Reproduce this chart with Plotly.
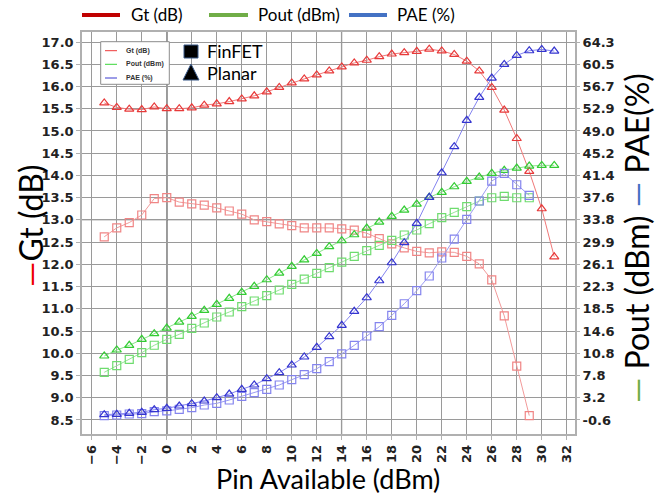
import plotly.graph_objects as go
import numpy as np

# ---- data -------------------------------------------------------------
pin_planar = list(range(-5, 32))   # Pin available (dBm), planar device
pin_finfet = list(range(-5, 30))   # Pin available (dBm), FinFET device

gt_planar = [15.63, 15.53, 15.49, 15.48, 15.54, 15.50, 15.50, 15.52, 15.58, 15.61,
             15.66, 15.72, 15.79, 15.88, 15.98, 16.08, 16.17, 16.26, 16.35, 16.44,
             16.53, 16.59, 16.67, 16.73, 16.76, 16.79, 16.84, 16.80, 16.72, 16.57,
             16.35, 15.98, 15.47, 14.83, 14.09, 13.25, 12.17]
gt_finfet = [12.62, 12.82, 12.94, 13.11, 13.48, 13.50, 13.40, 13.36, 13.33, 13.27,
             13.20, 13.13, 13.00, 12.96, 12.91, 12.87, 12.82, 12.82, 12.82, 12.80,
             12.77, 12.70, 12.58, 12.46, 12.37, 12.29, 12.26, 12.28, 12.27, 12.18,
             12.01, 11.65, 10.84, 9.71, 8.60]

pout_planar = [10.39, 11.42, 12.22, 13.25, 14.22, 15.19, 16.22, 17.20, 18.23, 19.26,
               20.29, 21.32, 22.35, 23.48, 24.63, 25.78, 26.90, 28.00, 29.15, 30.18,
               31.21, 32.36, 33.39, 34.37, 35.45, 36.48, 37.63, 38.49, 39.45, 40.38,
               41.11, 41.75, 42.27, 42.66, 43.00, 43.12, 43.12]
pout_finfet = [7.59, 8.72, 9.82, 10.96, 12.23, 13.25, 14.11, 15.14, 16.05, 17.08,
               17.94, 18.85, 19.83, 20.74, 21.72, 22.69, 23.60, 24.58, 25.55, 26.52,
               27.50, 28.47, 29.39, 30.25, 31.16, 32.02, 33.10, 34.13, 35.05, 36.02,
               37.00, 37.56, 37.80, 37.56, 37.56]

pae_planar = [0.31, 0.38, 0.55, 0.72, 1.17, 1.41, 1.80, 2.20, 2.66, 3.23,
              3.86, 4.67, 5.41, 6.49, 7.52, 8.84, 10.22, 11.88, 13.70, 15.66,
              18.06, 20.39, 23.31, 26.40, 29.84, 33.17, 37.63, 41.85, 46.32, 50.85,
              54.80, 58.11, 60.46, 62.00, 62.80, 63.03, 62.74]
pae_finfet = [0.14, 0.26, 0.43, 0.50, 0.83, 0.95, 1.24, 1.51, 1.97, 2.26,
              2.83, 3.47, 4.09, 4.67, 5.41, 6.32, 7.18, 8.21, 9.41, 10.75,
              12.22, 13.82, 15.42, 17.37, 19.36, 21.60, 24.12, 27.21, 30.47, 33.85,
              37.00, 40.43, 41.75, 39.79, 37.97]

x_ticks = list(range(-6, 33, 2))
gt_ticks = [8.5 + 0.5 * i for i in range(18)]
right_tick_text = ["-0.6", "3.2", "7.8", "10.8", "14.6", "18.5", "22.3", "26.1", "29.9",
                   "33.8", "37.6", "41.4", "45.2", "49.0", "52.9", "56.7", "60.5", "64.3"]

# ---- geometry helpers (pixel -> paper) --------------------------------
W, H = 662, 497
L, R, T, B = 82, 87, 32, 63
PW, PH = W - L - R, H - T - B


def px(x):
    return (x - L) / PW


def py(y):
    return (H - B - y) / PH


# left axis range and matching right axis range
gt_range = [8.185, 17.225]
r_lo, r_hi = -0.6, 64.3
scale = (r_hi - r_lo) / (17.0 - 8.5)
right_range = [r_lo + (gt_range[0] - 8.5) * scale, r_lo + (gt_range[1] - 8.5) * scale]
right_ticks = list(np.linspace(r_lo, r_hi, 18))

GRID = "#9a9a9a"
FRAME = "#b0b0b0"

fig = go.Figure()


def add_series(x, y, axis, line_col, mark_col, symbol):
    fig.add_trace(go.Scatter(
        x=x, y=y, yaxis=axis, mode="lines+markers", showlegend=False,
        line=dict(color=line_col, width=1),
        marker=dict(symbol=symbol, size=8, color=mark_col, line=dict(color=mark_col, width=1.2)),
    ))


add_series(pin_finfet, gt_finfet, "y", "#f29a9a", "#f08585", "square-open")
add_series(pin_planar, gt_planar, "y", "#f07878", "#e83a3a", "triangle-up-open")
add_series(pin_finfet, pout_finfet, "y2", "#96e596", "#6edc6e", "square-open")
add_series(pin_planar, pout_planar, "y2", "#8ae48a", "#33cc33", "triangle-up-open")
add_series(pin_finfet, pae_finfet, "y2", "#9c9cf2", "#8484ee", "square-open")
add_series(pin_planar, pae_planar, "y2", "#8484f0", "#3535d0", "triangle-up-open")

tick_font = dict(family="DejaVu Sans", size=13, color="#222222", weight="bold")
title_font = "Lato"

fig.update_layout(
    template="none",
    width=W, height=H,
    margin=dict(l=L, r=R, t=T, b=B),
    paper_bgcolor="white", plot_bgcolor="white",
    xaxis=dict(
        range=[-6.78, 32.66], tickmode="array", tickvals=x_ticks, tickangle=-90,
        tickfont=tick_font,
        showgrid=True, gridcolor=GRID, gridwidth=1.3,
        showline=True, linecolor=FRAME, linewidth=1.5, mirror=True,
        ticks="outside", ticklen=4, tickcolor=FRAME, zeroline=False,
    ),
    yaxis=dict(
        range=gt_range, tickmode="array", tickvals=gt_ticks, tickformat=".1f",
        tickfont=tick_font,
        showgrid=True, gridcolor=GRID, gridwidth=1.3,
        showline=True, linecolor=FRAME, linewidth=1.5, mirror=True,
        ticks="outside", ticklen=4, tickcolor=FRAME, zeroline=False,
    ),
    yaxis2=dict(
        range=right_range, overlaying="y", side="right", tickmode="array",
        tickvals=right_ticks, ticktext=right_tick_text, tickfont=tick_font,
        showgrid=False, showline=False, zeroline=False,
        ticks="outside", ticklen=4, tickcolor=FRAME,
    ),
)

shapes = []
# highlighted reference lines
shapes.append(dict(type="line", xref="x", yref="y", x0=14, x1=14, y0=gt_range[0], y1=gt_range[1],
                   line=dict(color="#dadada", width=2), layer="below"))
shapes.append(dict(type="line", xref="x", yref="y", x0=-6.78, x1=32.66, y0=13, y1=13,
                   line=dict(color="#dadada", width=2), layer="below"))
shapes.append(dict(type="line", xref="x", yref="y", x0=0, x1=0, y0=gt_range[0], y1=gt_range[1],
                   line=dict(color="#111111", width=1.3), layer="below"))

# top legend
top_items = [("Gt (dB)", "#c00000", 82, 120, 129),
             ("Pout (dBm)", "#70ad47", 209, 248, 256),
             ("PAE (%)", "#4472c4", 349, 387, 395)]
annotations = []
for label, col, x0, x1, xt in top_items:
    shapes.append(dict(type="line", xref="paper", yref="paper", x0=px(x0), x1=px(x1),
                       y0=py(15), y1=py(15), line=dict(color=col, width=4)))
    annotations.append(dict(text=label, xref="paper", yref="paper", x=px(xt), y=py(15),
                            xanchor="left", yanchor="middle", showarrow=False,
                            font=dict(family=title_font, size=17, color="black")))

# inner legend box
shapes.append(dict(type="rect", xref="paper", yref="paper",
                   x0=px(100.7), x1=px(169.3), y0=py(84.3), y1=py(41.7),
                   line=dict(color="#8c8c8c", width=1), fillcolor="white"))
inner_items = [("Gt (dB)", "#ee3a3a", 50.7), ("Pout (dBm)", "#3ad63a", 64.3),
               ("PAE (%)", "#3a3ad0", 78.0)]
for label, col, yy in inner_items:
    shapes.append(dict(type="line", xref="paper", yref="paper", x0=px(105), x1=px(117),
                       y0=py(yy), y1=py(yy), line=dict(color=col, width=1)))
    annotations.append(dict(text=f"<b>{label}</b>", xref="paper", yref="paper",
                            x=px(124), y=py(yy), xanchor="left", yanchor="middle",
                            showarrow=False,
                            font=dict(family="Liberation Sans", size=7, color="#333333")))

# device markers key
shapes.append(dict(type="rect", xref="paper", yref="paper",
                   x0=px(184), x1=px(198), y0=py(58), y1=py(45),
                   line=dict(color="#3a5a8a", width=1), fillcolor="black"))
shapes.append(dict(type="path", xref="paper", yref="paper",
                   path=f"M {px(183)} {py(80)} L {px(191)} {py(64)} L {px(199)} {py(80)} Z",
                   line=dict(color="#3a5a8a", width=1), fillcolor="black"))
for label, yy in [("FinFET", 51.5), ("Planar", 73)]:
    annotations.append(dict(text=label, xref="paper", yref="paper", x=px(205), y=py(yy),
                            xanchor="left", yanchor="middle", showarrow=False,
                            font=dict(family=title_font, size=18, color="black")))

# axis titles
annotations.append(dict(text="<span style='color:#ee0000'>—</span>Gt (dB)",
                        xref="paper", yref="paper", x=px(30), y=py(226), textangle=-90,
                        xanchor="center", yanchor="middle", showarrow=False,
                        font=dict(family=title_font, size=32, color="black")))
annotations.append(dict(text="<span style='color:#70ad47'>—</span> Pout (dBm) "
                             "<span style='color:#4472c4'>—</span> PAE(%)",
                        xref="paper", yref="paper", x=px(636), y=py(238), textangle=-90,
                        xanchor="center", yanchor="middle", showarrow=False,
                        font=dict(family=title_font, size=32, color="black")))
annotations.append(dict(text="Pin Available (dBm)", xref="paper", yref="paper",
                        x=px(328), y=py(478), xanchor="center", yanchor="middle",
                        showarrow=False,
                        font=dict(family=title_font, size=27, color="black")))

fig.update_layout(shapes=shapes, annotations=annotations)

fig.write_html("out.html")
